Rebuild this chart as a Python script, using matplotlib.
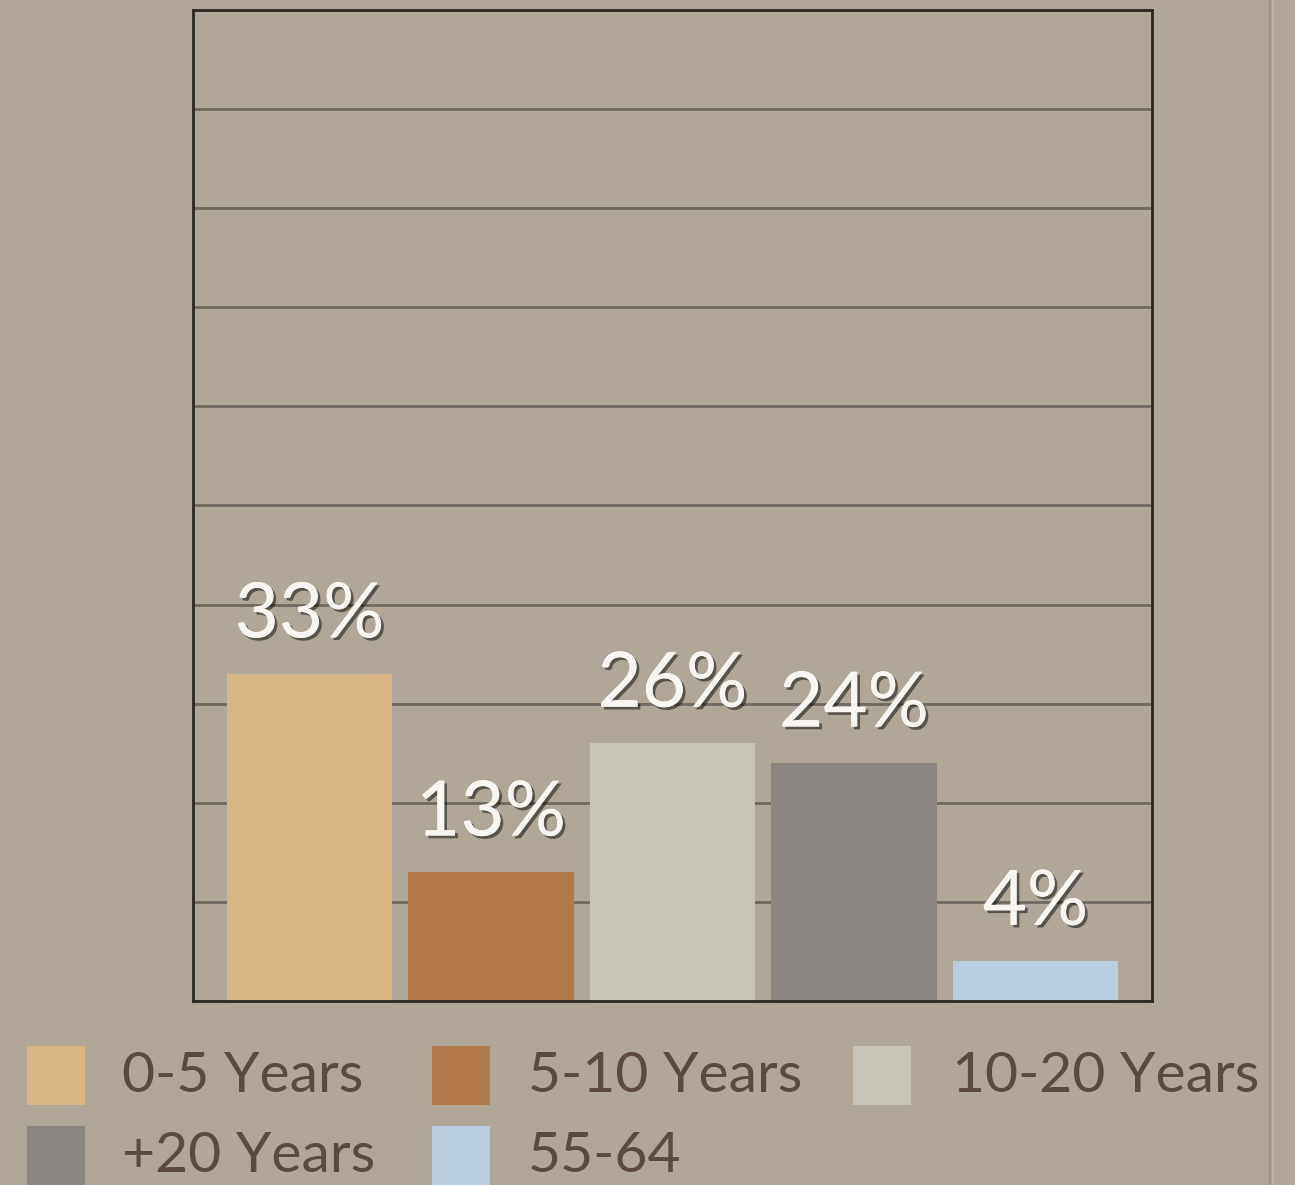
import matplotlib.pyplot as plt
import matplotlib.patheffects as pe
from matplotlib.patches import Rectangle
from matplotlib.lines import Line2D

# Data
categories = ["0-5 Years", "5-10 Years", "10-20 Years", "+20 Years", "55-64"]
values = [33, 13, 26, 24, 4]
colors = ["#d8b585", "#b17a48", "#c9c4b9", "#8a8581", "#b9cde0"]

bg = "#b1a798"
text_dark = "#5b4a3e"

fig = plt.figure(figsize=(12.95, 11.85), dpi=100)
fig.patch.set_facecolor(bg)

ax = fig.add_axes([0.149, 0.1553, 0.7406, 0.8363])
ax.set_facecolor(bg)

x = list(range(len(categories)))
bars = ax.bar(x, values, width=0.91, color=colors, zorder=3)

ax.set_xlim(-0.642, 4.642)
ax.set_ylim(0, 100)
ax.set_yticks(range(0, 101, 10))
ax.set_xticks([])
ax.tick_params(axis="y", length=0, labelleft=False)
ax.grid(axis="y", color="#6f6961", linewidth=2, zorder=1)
for s in ax.spines.values():
    s.set_color("#2a2724")
    s.set_linewidth(2)
    s.set_zorder(4)

# value labels with shadow
shadow = [pe.withSimplePatchShadow(offset=(2, -2), shadow_rgbFace="black", alpha=0.5),
          pe.Normal()]
for xi, v in zip(x, values):
    ax.annotate(f"{v}%", (xi, v), xytext=(0, 17), textcoords="offset points",
                ha="center", va="bottom", fontsize=55, color="#f7f6f3",
                family="Lato", zorder=5, path_effects=shadow)

# legend, drawn by hand in figure pixels
W, H = 1295, 1185
col_sq = [27, 432, 853]
col_tx = [122, 528, 952]
row_top = [1046, 1126]
for i, (cat, c) in enumerate(zip(categories, colors)):
    r, k = divmod(i, 3)
    fig.patches.append(Rectangle((col_sq[k] / W, 1 - (row_top[r] + 59) / H), 58 / W, 59 / H,
                                 transform=fig.transFigure, facecolor=c, edgecolor="none"))
    fig.text(col_tx[k] / W, 1 - (row_top[r] + 30) / H, cat, fontsize=41,
             color=text_dark, family="Lato", va="center", ha="left")

# faint vertical seam on the right
fig.lines.append(Line2D([1270 / W, 1270 / W], [0, 1], transform=fig.transFigure,
                        color="#9d9385", linewidth=1.5))
fig.lines.append(Line2D([1273 / W, 1273 / W], [0, 1], transform=fig.transFigure,
                        color="#c0b7aa", linewidth=1.2))

fig.savefig("out.png", dpi=100, facecolor=bg)
